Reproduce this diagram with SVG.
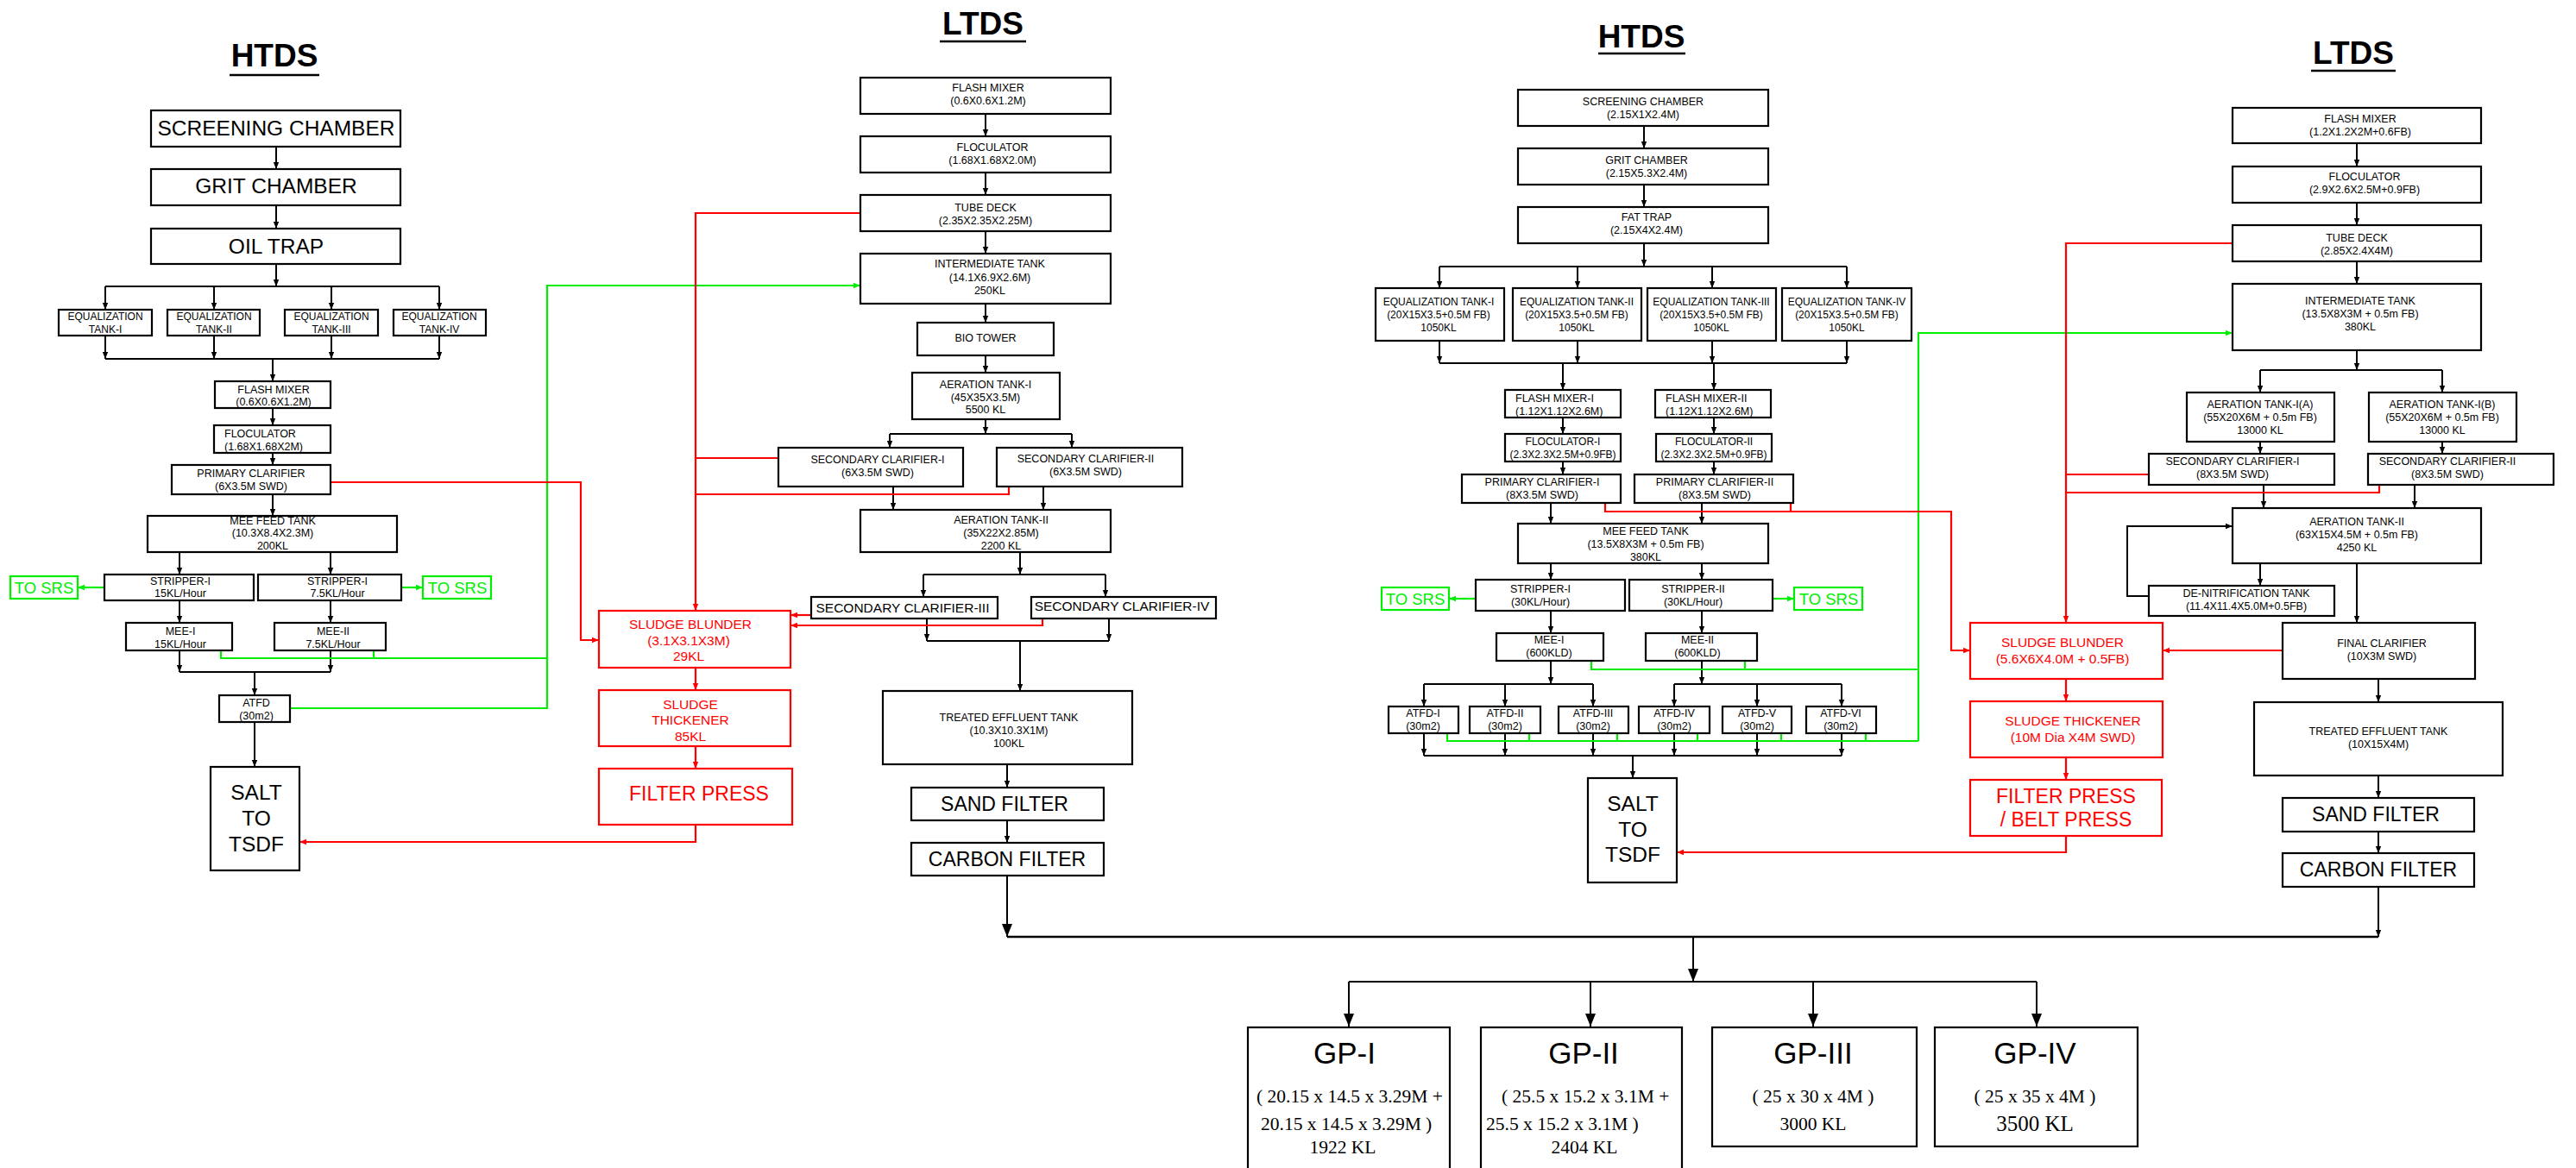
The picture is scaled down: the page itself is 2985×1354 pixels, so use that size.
<svg xmlns="http://www.w3.org/2000/svg" width="2985" height="1354" viewBox="0 0 2985 1354">
<style>
.bx{fill:#fff;stroke:#000;stroke-width:2.2}
.rb{fill:#fff;stroke:#f00;stroke-width:2.2}
.gb{fill:#fff;stroke:#0e0;stroke-width:2.2}
text{font-family:"Liberation Sans",Arial,sans-serif;fill:#000}
.s{font-size:12.5px;text-anchor:middle}
.e{font-size:12px;text-anchor:middle}
.sl{font-size:12.5px}
.m{font-size:15.5px;text-anchor:middle}
.L{font-size:23px;text-anchor:middle}
.XL{font-size:24.5px;text-anchor:middle}
.ttl{font-size:37px;font-weight:bold;text-anchor:middle}
.gp{font-size:35px;text-anchor:middle}
.tm{font-family:"Liberation Serif","Times New Roman",serif;font-size:21.5px}
.tmc{font-family:"Liberation Serif","Times New Roman",serif;font-size:21.5px;text-anchor:middle}
.red{fill:#f00}
.grn{fill:#0e0;font-size:18.5px;text-anchor:middle}
.k{stroke:#000;stroke-width:2;fill:none}
.ka{stroke:#000;stroke-width:2;fill:none;marker-end:url(#a)}
.kb{stroke:#000;stroke-width:2;fill:none;marker-end:url(#ab)}
.r{stroke:#f00;stroke-width:2.2;fill:none}
.ra{stroke:#f00;stroke-width:2.2;fill:none;marker-end:url(#ar)}
.g{stroke:#0e0;stroke-width:2.2;fill:none}
.ga{stroke:#0e0;stroke-width:2.2;fill:none;marker-end:url(#ag)}
.ul{stroke:#000;stroke-width:2.5}
</style>
<defs>
<marker id="a" viewBox="0 0 10 10" refX="10" refY="5" markerWidth="8" markerHeight="8" markerUnits="userSpaceOnUse" orient="auto"><path d="M0,1 L10,5 L0,9 z" fill="#000"/></marker>
<marker id="ab" viewBox="0 0 10 10" refX="10" refY="5" markerWidth="15" markerHeight="15" markerUnits="userSpaceOnUse" orient="auto"><path d="M0,1 L10,5 L0,9 z" fill="#000"/></marker>
<marker id="ar" viewBox="0 0 10 10" refX="10" refY="5" markerWidth="8" markerHeight="8" markerUnits="userSpaceOnUse" orient="auto"><path d="M0,1 L10,5 L0,9 z" fill="#f00"/></marker>
<marker id="ag" viewBox="0 0 10 10" refX="10" refY="5" markerWidth="8" markerHeight="8" markerUnits="userSpaceOnUse" orient="auto"><path d="M0,1 L10,5 L0,9 z" fill="#0e0"/></marker>
</defs>
<rect width="2985" height="1354" fill="#fff"/>

<g id="titles">
<text class="ttl" x="318" y="77">HTDS</text><line class="ul" x1="266" y1="87" x2="370" y2="87"/>
<text class="ttl" x="1139" y="40">LTDS</text><line class="ul" x1="1089" y1="48" x2="1189" y2="48"/>
<text class="ttl" x="1902" y="55">HTDS</text><line class="ul" x1="1852" y1="62" x2="1953" y2="62"/>
<text class="ttl" x="2727" y="74">LTDS</text><line class="ul" x1="2678" y1="82" x2="2776" y2="82"/>
</g>

<g id="connectors">
<!-- left HTDS -->
<path class="ka" d="M320,170V196"/><path class="ka" d="M320,238V265"/><path class="ka" d="M320,306V332"/>
<path class="k" d="M122,332H509"/>
<path class="ka" d="M122,332V359"/><path class="ka" d="M248,332V359"/><path class="ka" d="M384,332V359"/><path class="ka" d="M509,332V359"/>
<path class="ka" d="M122,389V416"/><path class="ka" d="M248,389V416"/><path class="ka" d="M384,389V416"/><path class="ka" d="M509,389V416"/>
<path class="k" d="M122,416H509"/><path class="ka" d="M316,416V442"/>
<path class="ka" d="M316,473V493"/><path class="ka" d="M316,515V539"/><path class="ka" d="M316,573V598"/>
<path class="ka" d="M208,640V666"/><path class="ka" d="M383,640V666"/>
<path class="ka" d="M208,696V722"/><path class="ka" d="M383,696V722"/>
<path class="ka" d="M208,754V779"/><path class="ka" d="M383,754V779"/><path class="k" d="M208,779H383"/>
<path class="ka" d="M295,779V806"/><path class="ka" d="M295,837V889"/>
<path class="ga" d="M121,681H90"/><path class="ga" d="M465,681H490"/>
<path class="g" d="M256,754V763H634"/><path class="g" d="M433,754V763"/>
<path class="ga" d="M336,821H634V331H997"/>
<path class="ra" d="M383,559H673V742H694"/>
<!-- mid LTDS -->
<path class="ka" d="M1142,132V158"/><path class="ka" d="M1142,200V226"/><path class="ka" d="M1142,268V294"/>
<path class="ka" d="M1142,352V374"/><path class="ka" d="M1142,412V432"/><path class="ka" d="M1142,486V503"/>
<path class="k" d="M1031,503H1242"/><path class="ka" d="M1031,503V519"/><path class="ka" d="M1242,503V519"/>
<path class="ka" d="M1035,564V591"/><path class="ka" d="M1209,564V591"/>
<path class="ka" d="M1182,640V666"/><path class="k" d="M1070,666H1281"/>
<path class="ka" d="M1070,666V692"/><path class="ka" d="M1281,666V692"/>
<path class="ka" d="M1074,717V743"/><path class="ka" d="M1285,717V743"/><path class="k" d="M1074,743H1285"/>
<path class="ka" d="M1182,743V801"/>
<path class="ka" d="M1167,886V913"/><path class="ka" d="M1167,951V977"/><path class="kb" d="M1167,1015V1086"/>
<path class="ra" d="M997,247H806V708"/><path class="r" d="M902,531H806"/><path class="r" d="M1169,564V573H806"/>
<path class="ra" d="M940,713H916"/><path class="ra" d="M1208,717V725H916"/>
<path class="ra" d="M806,774V800"/><path class="ra" d="M806,865V891"/><path class="ra" d="M806,956V976H347"/>
<!-- right HTDS -->
<path class="ka" d="M1905,146V172"/><path class="ka" d="M1905,214V240"/><path class="ka" d="M1905,282V309"/>
<path class="k" d="M1668,309H2140"/>
<path class="ka" d="M1668,309V334"/><path class="ka" d="M1828,309V334"/><path class="ka" d="M1984,309V334"/><path class="ka" d="M2140,309V334"/>
<path class="ka" d="M1668,395V421"/><path class="ka" d="M1828,395V421"/><path class="ka" d="M1984,395V421"/><path class="ka" d="M2140,395V421"/>
<path class="k" d="M1668,421H2140"/>
<path class="ka" d="M1811,421V452"/><path class="ka" d="M1986,421V452"/>
<path class="ka" d="M1811,484V503"/><path class="ka" d="M1986,484V503"/>
<path class="ka" d="M1811,535V550"/><path class="ka" d="M1986,535V550"/>
<path class="ka" d="M1797,583V607"/><path class="ka" d="M1972,583V607"/>
<path class="ka" d="M1797,653V672"/><path class="ka" d="M1972,653V672"/>
<path class="ka" d="M1797,708V734"/><path class="ka" d="M1972,708V734"/>
<path class="ka" d="M1797,766V793"/><path class="ka" d="M1972,766V793"/>
<path class="k" d="M1650,793H1846"/><path class="k" d="M1940,793H2134"/>
<path class="ka" d="M1650,793V819"/><path class="ka" d="M1744,793V819"/><path class="ka" d="M1846,793V819"/>
<path class="ka" d="M1940,793V819"/><path class="ka" d="M2036,793V819"/><path class="ka" d="M2134,793V819"/>
<path class="ka" d="M1650,850V876"/><path class="ka" d="M1744,850V876"/><path class="ka" d="M1846,850V876"/>
<path class="ka" d="M1940,850V876"/><path class="ka" d="M2036,850V876"/><path class="ka" d="M2134,850V876"/>
<path class="k" d="M1650,876H2134"/><path class="ka" d="M1892,876V902"/>
<path class="ga" d="M1710,694H1679"/><path class="ga" d="M2054,694H2079"/>
<path class="g" d="M1844,766V776H2223"/><path class="g" d="M2022,766V776"/>
<path class="g" d="M1677,850V859H2223"/><path class="g" d="M1772,850V859"/><path class="g" d="M1874,850V859"/>
<path class="g" d="M1967,850V859"/><path class="g" d="M2064,850V859"/><path class="g" d="M2162,850V859"/>
<path class="ga" d="M2223,859V386H2587"/>
<path class="ra" d="M1860,583V593H2261V754H2283"/><path class="r" d="M2075,583V593"/>
<!-- right LTDS -->
<path class="ka" d="M2731,166V193"/><path class="ka" d="M2731,235V261"/><path class="ka" d="M2731,303V329"/><path class="ka" d="M2731,406V429"/>
<path class="k" d="M2619,429H2830"/><path class="ka" d="M2619,429V455"/><path class="ka" d="M2830,429V455"/>
<path class="ka" d="M2619,512V526"/><path class="ka" d="M2830,512V526"/>
<path class="ka" d="M2623,562V589"/><path class="ka" d="M2798,562V589"/>
<path class="ka" d="M2619,653V679"/><path class="ka" d="M2490,691H2465V610H2587"/>
<path class="ka" d="M2731,653V722"/><path class="ka" d="M2756,787V814"/>
<path class="ka" d="M2756,899V925"/><path class="ka" d="M2756,964V989"/><path class="ka" d="M2756,1028V1086"/>
<path class="ra" d="M2587,282H2394V722"/><path class="r" d="M2490,550H2394"/><path class="r" d="M2757,562V571H2394"/>
<path class="ra" d="M2645,754H2506"/>
<path class="ra" d="M2394,787V813"/><path class="ra" d="M2394,878V904"/><path class="ra" d="M2394,969V988H1943"/>
<!-- bottom -->
<path class="k" d="M1167,1086H2756" style="stroke-width:2.5"/>
<path class="kb" d="M1962,1086V1138"/>
<path class="k" d="M1563,1138H2360"/>
<path class="kb" d="M1563,1138V1190"/><path class="kb" d="M1843,1138V1190"/><path class="kb" d="M2101,1138V1190"/><path class="kb" d="M2360,1138V1190"/>
</g>

<!-- LEFT HTDS nodes -->
<g id="l-screen"><rect class="bx" x="175" y="128" width="289" height="42"/><text class="XL" x="320" y="157">SCREENING CHAMBER</text></g>
<g id="l-grit"><rect class="bx" x="175" y="196" width="289" height="42"/><text class="XL" x="320" y="224">GRIT CHAMBER</text></g>
<g id="l-oil"><rect class="bx" x="175" y="265" width="289" height="41"/><text class="XL" x="320" y="294">OIL TRAP</text></g>
<g id="l-eq1"><rect class="bx" x="68" y="359" width="108" height="30"/><text class="e" x="122" y="371">EQUALIZATION</text><text class="e" x="122" y="386">TANK-I</text></g>
<g id="l-eq2"><rect class="bx" x="194" y="359" width="107" height="30"/><text class="e" x="248" y="371">EQUALIZATION</text><text class="e" x="248" y="386">TANK-II</text></g>
<g id="l-eq3"><rect class="bx" x="330" y="359" width="108" height="30"/><text class="e" x="384" y="371">EQUALIZATION</text><text class="e" x="384" y="386">TANK-III</text></g>
<g id="l-eq4"><rect class="bx" x="456" y="359" width="107" height="30"/><text class="e" x="509" y="371">EQUALIZATION</text><text class="e" x="509" y="386">TANK-IV</text></g>
<g id="l-fm"><rect class="bx" x="249" y="442" width="134" height="31"/><text class="s" x="317" y="456">FLASH MIXER</text><text class="s" x="317" y="470">(0.6X0.6X1.2M)</text></g>
<g id="l-floc"><rect class="bx" x="248" y="493" width="135" height="32"/><text class="sl" x="260" y="507">FLOCULATOR</text><text class="sl" x="260" y="522">(1.68X1.68X2M)</text></g>
<g id="l-pc"><rect class="bx" x="199" y="539" width="184" height="34"/><text class="s" x="291" y="553">PRIMARY CLARIFIER</text><text class="s" x="291" y="568">(6X3.5M SWD)</text></g>
<g id="l-mee-feed"><rect class="bx" x="171" y="598" width="289" height="42"/><text class="s" x="316" y="608">MEE FEED TANK</text><text class="s" x="316" y="622">(10.3X8.4X2.3M)</text><text class="s" x="316" y="637">200KL</text></g>
<g id="l-str1"><rect class="bx" x="121" y="666" width="173" height="30"/><text class="s" x="209" y="678">STRIPPER-I</text><text class="s" x="209" y="692">15KL/Hour</text></g>
<g id="l-str2"><rect class="bx" x="299" y="666" width="166" height="30"/><text class="s" x="391" y="678">STRIPPER-I</text><text class="s" x="391" y="692">7.5KL/Hour</text></g>
<g id="l-srs1"><rect class="gb" x="12" y="668" width="78" height="26"/><text class="grn" x="51" y="688">TO SRS</text></g>
<g id="l-srs2"><rect class="gb" x="490" y="668" width="79" height="26"/><text class="grn" x="530" y="688">TO SRS</text></g>
<g id="l-mee1"><rect class="bx" x="146" y="722" width="123" height="32"/><text class="s" x="209" y="736">MEE-I</text><text class="s" x="209" y="751">15KL/Hour</text></g>
<g id="l-mee2"><rect class="bx" x="318" y="722" width="129" height="32"/><text class="s" x="386" y="736">MEE-II</text><text class="s" x="386" y="751">7.5KL/Hour</text></g>
<g id="l-atfd"><rect class="bx" x="254" y="806" width="82" height="31"/><text class="s" x="297" y="819">ATFD</text><text class="s" x="297" y="834">(30m2)</text></g>
<g id="l-salt"><rect class="bx" x="244" y="889" width="103" height="120"/><text class="XL" x="297" y="927">SALT</text><text class="XL" x="297" y="957">TO</text><text class="XL" x="297" y="987">TSDF</text></g>

<!-- MID LTDS nodes -->
<g id="m-fm"><rect class="bx" x="997" y="90" width="290" height="42"/><text class="s" x="1145" y="106">FLASH MIXER</text><text class="s" x="1145" y="121">(0.6X0.6X1.2M)</text></g>
<g id="m-floc"><rect class="bx" x="997" y="158" width="290" height="42"/><text class="s" x="1150" y="175">FLOCULATOR</text><text class="s" x="1150" y="190">(1.68X1.68X2.0M)</text></g>
<g id="m-tube"><rect class="bx" x="997" y="226" width="290" height="42"/><text class="s" x="1142" y="245">TUBE DECK</text><text class="s" x="1142" y="260">(2.35X2.35X2.25M)</text></g>
<g id="m-int"><rect class="bx" x="997" y="294" width="290" height="58"/><text class="s" x="1147" y="310">INTERMEDIATE TANK</text><text class="s" x="1147" y="326">(14.1X6.9X2.6M)</text><text class="s" x="1147" y="341">250KL</text></g>
<g id="m-bio"><rect class="bx" x="1063" y="374" width="158" height="38"/><text class="s" x="1142" y="396">BIO TOWER</text></g>
<g id="m-at1"><rect class="bx" x="1057" y="432" width="171" height="54"/><text class="s" x="1142" y="450">AERATION TANK-I</text><text class="s" x="1142" y="465">(45X35X3.5M)</text><text class="s" x="1142" y="479">5500 KL</text></g>
<g id="m-sc1"><rect class="bx" x="902" y="519" width="214" height="45"/><text class="s" x="1017" y="537">SECONDARY CLARIFIER-I</text><text class="s" x="1017" y="552">(6X3.5M SWD)</text></g>
<g id="m-sc2"><rect class="bx" x="1155" y="519" width="215" height="45"/><text class="s" x="1258" y="536">SECONDARY CLARIFIER-II</text><text class="s" x="1258" y="551">(6X3.5M SWD)</text></g>
<g id="m-at2"><rect class="bx" x="997" y="591" width="290" height="49"/><text class="s" x="1160" y="607">AERATION TANK-II</text><text class="s" x="1160" y="622">(35X22X2.85M)</text><text class="s" x="1160" y="637">2200 KL</text></g>
<g id="m-sc3"><rect class="bx" x="940" y="692" width="216" height="25"/><text class="m" x="1046" y="710">SECONDARY CLARIFIER-III</text></g>
<g id="m-sc4"><rect class="bx" x="1195" y="692" width="214" height="25"/><text class="m" x="1300" y="708">SECONDARY CLARIFIER-IV</text></g>
<g id="m-tet"><rect class="bx" x="1023" y="801" width="289" height="85"/><text class="s" x="1169" y="836">TREATED EFFLUENT TANK</text><text class="s" x="1169" y="851">(10.3X10.3X1M)</text><text class="s" x="1169" y="866">100KL</text></g>
<g id="m-sand"><rect class="bx" x="1056" y="913" width="223" height="38"/><text class="L" x="1164" y="940">SAND FILTER</text></g>
<g id="m-carbon"><rect class="bx" x="1056" y="977" width="223" height="38"/><text class="L" x="1167" y="1004">CARBON FILTER</text></g>
<g id="m-sb"><rect class="rb" x="694" y="708" width="222" height="66"/><text class="m red" x="800" y="729">SLUDGE BLUNDER</text><text class="m red" x="798" y="748">(3.1X3.1X3M)</text><text class="m red" x="798" y="766">29KL</text></g>
<g id="m-st"><rect class="rb" x="694" y="800" width="222" height="65"/><text class="m red" x="800" y="822">SLUDGE</text><text class="m red" x="800" y="840">THICKENER</text><text class="m red" x="800" y="859">85KL</text></g>
<g id="m-fp"><rect class="rb" x="694" y="891" width="224" height="65"/><text class="L red" x="810" y="928">FILTER PRESS</text></g>

<!-- RIGHT HTDS nodes -->
<g id="r-screen"><rect class="bx" x="1759" y="104" width="290" height="42"/><text class="s" x="1904" y="122">SCREENING CHAMBER</text><text class="s" x="1904" y="137">(2.15X1X2.4M)</text></g>
<g id="r-grit"><rect class="bx" x="1759" y="172" width="290" height="42"/><text class="s" x="1908" y="190">GRIT CHAMBER</text><text class="s" x="1908" y="205">(2.15X5.3X2.4M)</text></g>
<g id="r-fat"><rect class="bx" x="1759" y="240" width="290" height="42"/><text class="s" x="1908" y="256">FAT TRAP</text><text class="s" x="1908" y="271">(2.15X4X2.4M)</text></g>
<g id="r-eq1"><rect class="bx" x="1594" y="334" width="149" height="61"/><text class="e" x="1667" y="354">EQUALIZATION TANK-I</text><text class="e" x="1667" y="369">(20X15X3.5+0.5M FB)</text><text class="e" x="1667" y="384">1050KL</text></g>
<g id="r-eq2"><rect class="bx" x="1753" y="334" width="149" height="61"/><text class="e" x="1827" y="354">EQUALIZATION TANK-II</text><text class="e" x="1827" y="369">(20X15X3.5+0.5M FB)</text><text class="e" x="1827" y="384">1050KL</text></g>
<g id="r-eq3"><rect class="bx" x="1909" y="334" width="149" height="61"/><text class="e" x="1983" y="354">EQUALIZATION TANK-III</text><text class="e" x="1983" y="369">(20X15X3.5+0.5M FB)</text><text class="e" x="1983" y="384">1050KL</text></g>
<g id="r-eq4"><rect class="bx" x="2065" y="334" width="150" height="61"/><text class="e" x="2140" y="354">EQUALIZATION TANK-IV</text><text class="e" x="2140" y="369">(20X15X3.5+0.5M FB)</text><text class="e" x="2140" y="384">1050KL</text></g>
<g id="r-fm1"><rect class="bx" x="1744" y="452" width="134" height="32"/><text class="sl" x="1756" y="466">FLASH MIXER-I</text><text class="sl" x="1756" y="481">(1.12X1.12X2.6M)</text></g>
<g id="r-fm2"><rect class="bx" x="1918" y="452" width="134" height="32"/><text class="sl" x="1930" y="466">FLASH MIXER-II</text><text class="sl" x="1930" y="481">(1.12X1.12X2.6M)</text></g>
<g id="r-floc1"><rect class="bx" x="1744" y="503" width="134" height="32"/><text class="e" x="1811" y="516">FLOCULATOR-I</text><text class="e" x="1811" y="531">(2.3X2.3X2.5M+0.9FB)</text></g>
<g id="r-floc2"><rect class="bx" x="1919" y="503" width="134" height="32"/><text class="e" x="1986" y="516">FLOCULATOR-II</text><text class="e" x="1986" y="531">(2.3X2.3X2.5M+0.9FB)</text></g>
<g id="r-pc1"><rect class="bx" x="1694" y="550" width="184" height="33"/><text class="s" x="1787" y="563">PRIMARY CLARIFIER-I</text><text class="s" x="1787" y="578">(8X3.5M SWD)</text></g>
<g id="r-pc2"><rect class="bx" x="1894" y="550" width="184" height="33"/><text class="s" x="1987" y="563">PRIMARY CLARIFIER-II</text><text class="s" x="1987" y="578">(8X3.5M SWD)</text></g>
<g id="r-mee-feed"><rect class="bx" x="1759" y="607" width="290" height="46"/><text class="s" x="1907" y="620">MEE FEED TANK</text><text class="s" x="1907" y="635">(13.5X8X3M + 0.5m FB)</text><text class="s" x="1907" y="650">380KL</text></g>
<g id="r-str1"><rect class="bx" x="1710" y="672" width="173" height="36"/><text class="s" x="1785" y="687">STRIPPER-I</text><text class="s" x="1785" y="702">(30KL/Hour)</text></g>
<g id="r-str2"><rect class="bx" x="1888" y="672" width="166" height="36"/><text class="s" x="1962" y="687">STRIPPER-II</text><text class="s" x="1962" y="702">(30KL/Hour)</text></g>
<g id="r-srs1"><rect class="gb" x="1601" y="681" width="78" height="26"/><text class="grn" x="1640" y="701">TO SRS</text></g>
<g id="r-srs2"><rect class="gb" x="2079" y="681" width="79" height="26"/><text class="grn" x="2119" y="701">TO SRS</text></g>
<g id="r-mee1"><rect class="bx" x="1734" y="734" width="124" height="32"/><text class="s" x="1795" y="746">MEE-I</text><text class="s" x="1795" y="761">(600KLD)</text></g>
<g id="r-mee2"><rect class="bx" x="1907" y="734" width="129" height="32"/><text class="s" x="1967" y="746">MEE-II</text><text class="s" x="1967" y="761">(600KLD)</text></g>
<g id="r-atfd1"><rect class="bx" x="1609" y="819" width="81" height="31"/><text class="s" x="1649" y="831">ATFD-I</text><text class="s" x="1649" y="846">(30m2)</text></g>
<g id="r-atfd2"><rect class="bx" x="1703" y="819" width="82" height="31"/><text class="s" x="1744" y="831">ATFD-II</text><text class="s" x="1744" y="846">(30m2)</text></g>
<g id="r-atfd3"><rect class="bx" x="1806" y="819" width="81" height="31"/><text class="s" x="1846" y="831">ATFD-III</text><text class="s" x="1846" y="846">(30m2)</text></g>
<g id="r-atfd4"><rect class="bx" x="1899" y="819" width="82" height="31"/><text class="s" x="1940" y="831">ATFD-IV</text><text class="s" x="1940" y="846">(30m2)</text></g>
<g id="r-atfd5"><rect class="bx" x="1996" y="819" width="80" height="31"/><text class="s" x="2036" y="831">ATFD-V</text><text class="s" x="2036" y="846">(30m2)</text></g>
<g id="r-atfd6"><rect class="bx" x="2093" y="819" width="81" height="31"/><text class="s" x="2133" y="831">ATFD-VI</text><text class="s" x="2133" y="846">(30m2)</text></g>
<g id="r-salt"><rect class="bx" x="1840" y="902" width="103" height="121"/><text class="XL" x="1892" y="940">SALT</text><text class="XL" x="1892" y="970">TO</text><text class="XL" x="1892" y="999">TSDF</text></g>
<g id="r-sb"><rect class="rb" x="2283" y="722" width="223" height="65"/><text class="m red" x="2390" y="750">SLUDGE BLUNDER</text><text class="m red" x="2390" y="769">(5.6X6X4.0M + 0.5FB)</text></g>
<g id="r-st"><rect class="rb" x="2283" y="813" width="223" height="65"/><text class="m red" x="2402" y="841">SLUDGE THICKENER</text><text class="m red" x="2402" y="860">(10M Dia X4M SWD)</text></g>
<g id="r-fp"><rect class="rb" x="2283" y="904" width="222" height="65"/><text class="L red" x="2394" y="931">FILTER PRESS</text><text class="L red" x="2394" y="958">/ BELT PRESS</text></g>

<!-- RIGHT LTDS nodes -->
<g id="rl-fm"><rect class="bx" x="2587" y="125" width="288" height="41"/><text class="s" x="2735" y="142">FLASH MIXER</text><text class="s" x="2735" y="157">(1.2X1.2X2M+0.6FB)</text></g>
<g id="rl-floc"><rect class="bx" x="2587" y="193" width="288" height="42"/><text class="s" x="2740" y="209">FLOCULATOR</text><text class="s" x="2740" y="224">(2.9X2.6X2.5M+0.9FB)</text></g>
<g id="rl-tube"><rect class="bx" x="2587" y="261" width="288" height="42"/><text class="s" x="2731" y="280">TUBE DECK</text><text class="s" x="2731" y="295">(2.85X2.4X4M)</text></g>
<g id="rl-int"><rect class="bx" x="2587" y="329" width="288" height="77"/><text class="s" x="2735" y="353">INTERMEDIATE TANK</text><text class="s" x="2735" y="368">(13.5X8X3M + 0.5m FB)</text><text class="s" x="2735" y="383">380KL</text></g>
<g id="rl-at1a"><rect class="bx" x="2534" y="455" width="171" height="57"/><text class="s" x="2619" y="473">AERATION TANK-I(A)</text><text class="s" x="2619" y="488">(55X20X6M + 0.5m FB)</text><text class="s" x="2619" y="503">13000 KL</text></g>
<g id="rl-at1b"><rect class="bx" x="2745" y="455" width="171" height="57"/><text class="s" x="2830" y="473">AERATION TANK-I(B)</text><text class="s" x="2830" y="488">(55X20X6M + 0.5m FB)</text><text class="s" x="2830" y="503">13000 KL</text></g>
<g id="rl-sc1"><rect class="bx" x="2490" y="526" width="215" height="36"/><text class="s" x="2587" y="539">SECONDARY CLARIFIER-I</text><text class="s" x="2587" y="554">(8X3.5M SWD)</text></g>
<g id="rl-sc2"><rect class="bx" x="2744" y="526" width="215" height="36"/><text class="s" x="2836" y="539">SECONDARY CLARIFIER-II</text><text class="s" x="2836" y="554">(8X3.5M SWD)</text></g>
<g id="rl-at2"><rect class="bx" x="2587" y="589" width="288" height="64"/><text class="s" x="2731" y="609">AERATION TANK-II</text><text class="s" x="2731" y="624">(63X15X4.5M + 0.5m FB)</text><text class="s" x="2731" y="639">4250 KL</text></g>
<g id="rl-denit"><rect class="bx" x="2490" y="679" width="215" height="35"/><text class="s" x="2603" y="692">DE-NITRIFICATION TANK</text><text class="s" x="2603" y="707">(11.4X11.4X5.0M+0.5FB)</text></g>
<g id="rl-fc"><rect class="bx" x="2645" y="722" width="223" height="65"/><text class="s" x="2760" y="750">FINAL CLARIFIER</text><text class="s" x="2760" y="765">(10X3M SWD)</text></g>
<g id="rl-tet"><rect class="bx" x="2612" y="814" width="288" height="85"/><text class="s" x="2756" y="852">TREATED EFFLUENT TANK</text><text class="s" x="2756" y="867">(10X15X4M)</text></g>
<g id="rl-sand"><rect class="bx" x="2645" y="925" width="222" height="39"/><text class="L" x="2753" y="952">SAND FILTER</text></g>
<g id="rl-carbon"><rect class="bx" x="2645" y="989" width="222" height="39"/><text class="L" x="2756" y="1016">CARBON FILTER</text></g>

<!-- GP nodes -->
<g id="gp1"><rect class="bx" x="1446" y="1191" width="234" height="175"/><text class="gp" x="1558" y="1233">GP-I</text><text class="tm" x="1456" y="1278">( 20.15 x 14.5 x 3.29M +</text><text class="tm" x="1461" y="1310">20.15 x 14.5 x 3.29M )</text><text class="tmc" x="1556" y="1337">1922 KL</text></g>
<g id="gp2"><rect class="bx" x="1716" y="1191" width="233" height="175"/><text class="gp" x="1835" y="1233">GP-II</text><text class="tm" x="1740" y="1278">( 25.5 x 15.2 x 3.1M +</text><text class="tm" x="1722" y="1310">25.5 x 15.2 x 3.1M )</text><text class="tmc" x="1836" y="1337">2404 KL</text></g>
<g id="gp3"><rect class="bx" x="1984" y="1191" width="237" height="138"/><text class="gp" x="2101" y="1233">GP-III</text><text class="tmc" x="2101" y="1278">( 25 x 30 x 4M )</text><text class="tmc" x="2101" y="1310">3000 KL</text></g>
<g id="gp4"><rect class="bx" x="2242" y="1191" width="235" height="138"/><text class="gp" x="2358" y="1233">GP-IV</text><text class="tmc" x="2358" y="1278">( 25 x 35 x 4M )</text><text class="tmc" x="2358" y="1311" style="font-size:25px">3500 KL</text></g>
</svg>
